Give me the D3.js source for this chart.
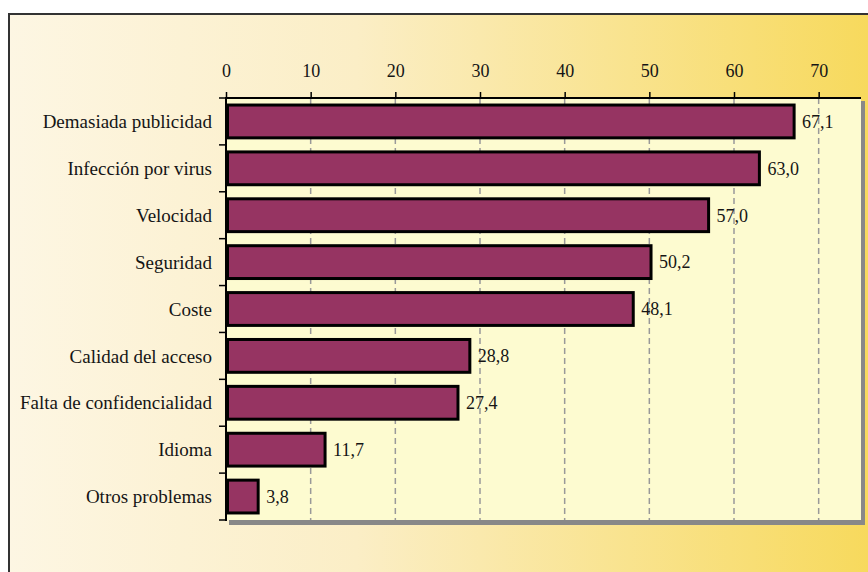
<!DOCTYPE html>
<html>
<head>
<meta charset="utf-8">
<script src="https://cdn.jsdelivr.net/npm/d3@7"></script>
<style>
  body { margin: 0; background: #fff; }
  text { font-family: "Liberation Serif", "Times New Roman", serif; fill: #151515; }
</style>
</head>
<body>
<div id="chart"></div>
<script>
// chart data
var categories = ["Demasiada publicidad", "Infección por virus", "Velocidad", "Seguridad", "Coste",
  "Calidad del acceso", "Falta de confidencialidad", "Idioma", "Otros problemas"];
var values = [67.1, 63.0, 57.0, 50.2, 48.1, 28.8, 27.4, 11.7, 3.8];
var tickValues = [0, 10, 20, 30, 40, 50, 60, 70];

var W = 868, H = 572;
var margin = { top: 98, right: 7, bottom: 52, left: 226 };
var width = W - margin.left - margin.right;
var height = H - margin.top - margin.bottom;

var svg = d3.select("#chart").append("svg")
  .attr("width", W)
  .attr("height", H);

// background gradient
var defs = svg.append("defs");
var grad = defs.append("linearGradient").attr("id", "bg")
  .attr("x1", "0%").attr("y1", "0%").attr("x2", "100%").attr("y2", "0%");
grad.append("stop").attr("offset", "0%").attr("stop-color", "#fdf6e3");
grad.append("stop").attr("offset", "40%").attr("stop-color", "#fbeec6");
grad.append("stop").attr("offset", "100%").attr("stop-color", "#f7d95b");

svg.append("rect")
  .attr("x", 9).attr("y", 14)
  .attr("width", W).attr("height", H)
  .attr("fill", "url(#bg)")
  .attr("stroke", "#333")
  .attr("stroke-width", 2);

var g = svg.append("g")
  .attr("transform", "translate(" + margin.left + "," + margin.top + ")");

var x = d3.scaleLinear().domain([0, 75]).range([0, width]);
var y = d3.scaleBand().domain(categories).range([0, height]).paddingInner(0.3).paddingOuter(0.15);

// plot area with shadow
g.append("rect")
  .attr("x", 3).attr("y", 3)
  .attr("width", width + 1).attr("height", height + 2)
  .attr("fill", "#888");
g.append("rect")
  .attr("x", 0).attr("y", 0)
  .attr("width", width).attr("height", height)
  .attr("fill", "#fdfbd0");

// dashed grid
g.selectAll(".grid")
  .data(tickValues.slice(1))
  .enter()
  .append("line")
  .attr("class", "grid")
  .attr("x1", function (d) { return x(d); })
  .attr("x2", function (d) { return x(d); })
  .attr("y1", 0)
  .attr("y2", height)
  .attr("stroke", "#999")
  .attr("stroke-width", 1.5)
  .attr("stroke-dasharray", "6,4");

// top axis
var xAxis = d3.axisTop(x).tickValues(tickValues).tickSize(6).tickPadding(15)
  .tickFormat(d3.format("d"));
var xg = g.append("g").call(xAxis);
xg.select(".domain").attr("stroke", "#000").attr("stroke-width", 2)
  .attr("d", "M0,0H" + width);
xg.selectAll(".tick line").attr("stroke", "#000").attr("stroke-width", 1.5);
xg.selectAll(".tick text").attr("font-size", "18px").attr("fill", "#151515");

// left axis: labels plus ticks at band edges
var yg = g.append("g");
yg.append("line")
  .attr("x1", 0).attr("x2", 0).attr("y1", -1).attr("y2", height + 1)
  .attr("stroke", "#000").attr("stroke-width", 2);
var edges = d3.range(categories.length + 1).map(function (i) { return i * height / categories.length; });
yg.selectAll(".ytick")
  .data(edges)
  .enter()
  .append("line")
  .attr("x1", -7).attr("x2", 0)
  .attr("y1", function (d) { return d; })
  .attr("y2", function (d) { return d; })
  .attr("stroke", "#000").attr("stroke-width", 1.5);
yg.selectAll(".ylabel")
  .data(categories)
  .enter()
  .append("text")
  .attr("x", -14)
  .attr("y", function (d) { return y(d) + y.bandwidth() / 2; })
  .attr("dy", "0.35em")
  .attr("text-anchor", "end")
  .attr("font-size", "19px")
  .text(function (d) { return d; });

// bars
var fmt = function (v) { return d3.format(".1f")(v).replace(".", ","); };
g.selectAll(".bar")
  .data(values)
  .enter()
  .append("rect")
  .attr("class", "bar")
  .attr("x", x(0) + 1.5)
  .attr("y", function (d, i) { return y(categories[i]); })
  .attr("width", function (d) { return x(d) - x(0) - 1.5; })
  .attr("height", y.bandwidth())
  .attr("fill", "#963462")
  .attr("stroke", "#000")
  .attr("stroke-width", 3);

g.selectAll(".val")
  .data(values)
  .enter()
  .append("text")
  .attr("x", function (d) { return x(d) + 8; })
  .attr("y", function (d, i) { return y(categories[i]) + y.bandwidth() / 2; })
  .attr("dy", "0.35em")
  .attr("font-size", "18px")
  .text(fmt);
</script>
</body>
</html>
